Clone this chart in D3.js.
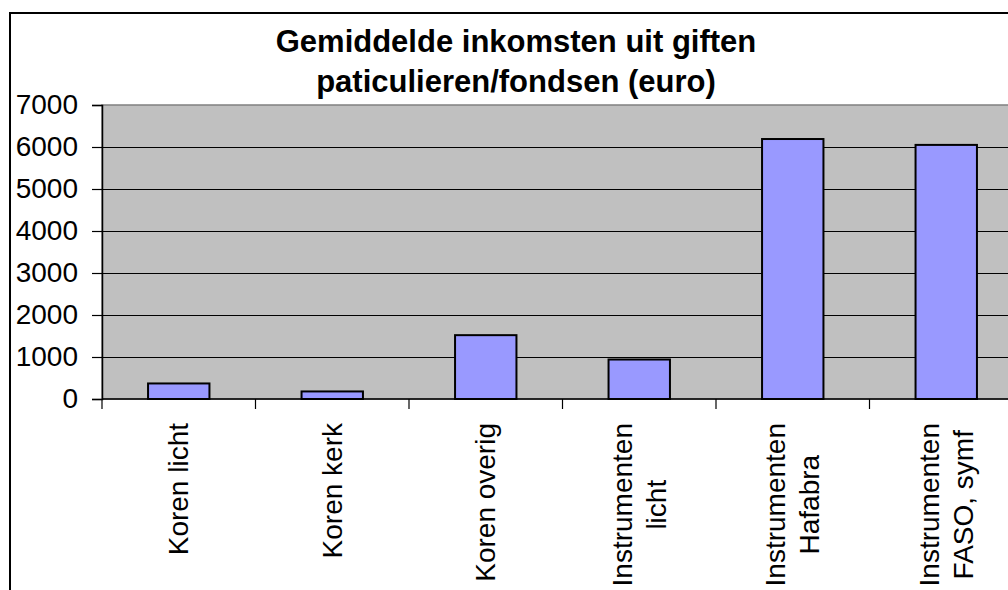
<!DOCTYPE html>
<html>
<head>
<meta charset="utf-8">
<script src="https://cdn.jsdelivr.net/npm/d3@7"></script>
<style>
  body { margin: 0; background: #fff; }
  svg { display: block; font-family: "Liberation Sans", Arial, sans-serif; }
</style>
</head>
<body>
<div id="chart"></div>
<script>
// data
var categories = [
  ["Koren licht"],
  ["Koren kerk"],
  ["Koren overig"],
  ["Instrumenten", "licht"],
  ["Instrumenten", "Hafabra"],
  ["Instrumenten", "FASO, symf"]
];
var values = [370, 180, 1520, 940, 6190, 6050];
var yTicks = [0, 1000, 2000, 3000, 4000, 5000, 6000, 7000];
var titleLines = ["Gemiddelde inkomsten uit giften", "paticulieren/fondsen (euro)"];

var svgWidth = 1008;
var svgHeight = 590;
var plot = { left: 102, top: 105, right: 1023, bottom: 399 };

var svg = d3.select("#chart")
  .append("svg")
  .attr("width", svgWidth)
  .attr("height", svgHeight);

// outer chart border (runs off the right/bottom edge)
svg.append("rect")
  .attr("x", 10)
  .attr("y", 13)
  .attr("width", 1100)
  .attr("height", 700)
  .attr("fill", "#fff")
  .attr("stroke", "#000")
  .attr("stroke-width", 2);

var xScale = d3.scaleBand()
  .domain(d3.range(categories.length))
  .range([plot.left, plot.right])
  .paddingInner(0.6)
  .paddingOuter(0.3);

var yScale = d3.scaleLinear()
  .domain([0, 7000])
  .range([plot.bottom, plot.top]);

// plot area
svg.append("rect")
  .attr("x", plot.left)
  .attr("y", plot.top)
  .attr("width", plot.right - plot.left)
  .attr("height", plot.bottom - plot.top)
  .attr("fill", "#c0c0c0")
  .attr("stroke", "#808080")
  .attr("stroke-width", 1.5);

// gridlines
svg.append("g")
  .selectAll("line")
  .data(yTicks.filter(d => d > 0 && d < 7000))
  .enter()
  .append("line")
  .attr("x1", plot.left)
  .attr("x2", plot.right)
  .attr("y1", d => Math.round(yScale(d)) + 0.5)
  .attr("y2", d => Math.round(yScale(d)) + 0.5)
  .attr("stroke", "#000")
  .attr("stroke-width", 1);

// bars
svg.append("g")
  .selectAll("rect")
  .data(values)
  .enter()
  .append("rect")
  .attr("x", (d, i) => xScale(i))
  .attr("y", d => yScale(d))
  .attr("width", xScale.bandwidth())
  .attr("height", d => yScale(0) - yScale(d))
  .attr("fill", "#9999ff")
  .attr("stroke", "#000")
  .attr("stroke-width", 2);

// y axis
var leftAxis = d3.axisLeft(yScale)
  .tickValues(yTicks)
  .tickSize(10)
  .tickPadding(14)
  .tickFormat(d3.format("d"));
var yAxis = svg.append("g")
  .attr("transform", `translate(${plot.left}, 0)`)
  .call(leftAxis);
yAxis.select(".domain").attr("stroke", "#000").attr("stroke-width", 1.5);
yAxis.selectAll(".tick line").attr("stroke", "#000").attr("stroke-width", 1.2);
yAxis.selectAll(".tick text")
  .attr("fill", "#000")
  .style("font-size", "28px")
  .style("font-family", "Liberation Sans, Arial, sans-serif");

// x axis line + ticks at category boundaries
var step = xScale.step();
svg.append("line")
  .attr("x1", plot.left)
  .attr("x2", plot.right)
  .attr("y1", plot.bottom)
  .attr("y2", plot.bottom)
  .attr("stroke", "#000")
  .attr("stroke-width", 1.5);
svg.append("g")
  .selectAll("line")
  .data(d3.range(categories.length + 1))
  .enter()
  .append("line")
  .attr("x1", i => plot.left + i * step)
  .attr("x2", i => plot.left + i * step)
  .attr("y1", plot.bottom)
  .attr("y2", plot.bottom + 10)
  .attr("stroke", "#000")
  .attr("stroke-width", 1.2);

// category labels, rotated
var labelTop = 423;
var lineGap = 34;
categories.forEach(function(lines, i) {
  var cx = xScale(i) + xScale.bandwidth() / 2;
  var g = svg.append("g")
    .attr("transform", `translate(${cx}, ${labelTop}) rotate(-90)`);
  var texts = lines.map(function(line, j) {
    return g.append("text")
      .attr("y", (j - (lines.length - 1) / 2) * lineGap)
      .attr("dominant-baseline", "central")
      .attr("text-anchor", "middle")
      .style("font-size", "28px")
      .text(line);
  });
  var maxLen = d3.max(texts, t => t.node().getComputedTextLength());
  texts.forEach(t => t.attr("x", -maxLen / 2));
});

// title
svg.append("g")
  .selectAll("text")
  .data(titleLines)
  .enter()
  .append("text")
  .attr("x", 516)
  .attr("y", (d, i) => 52 + i * 40)
  .attr("text-anchor", "middle")
  .style("font-size", "31px")
  .style("font-weight", "bold")
  .text(d => d);
</script>
</body>
</html>
